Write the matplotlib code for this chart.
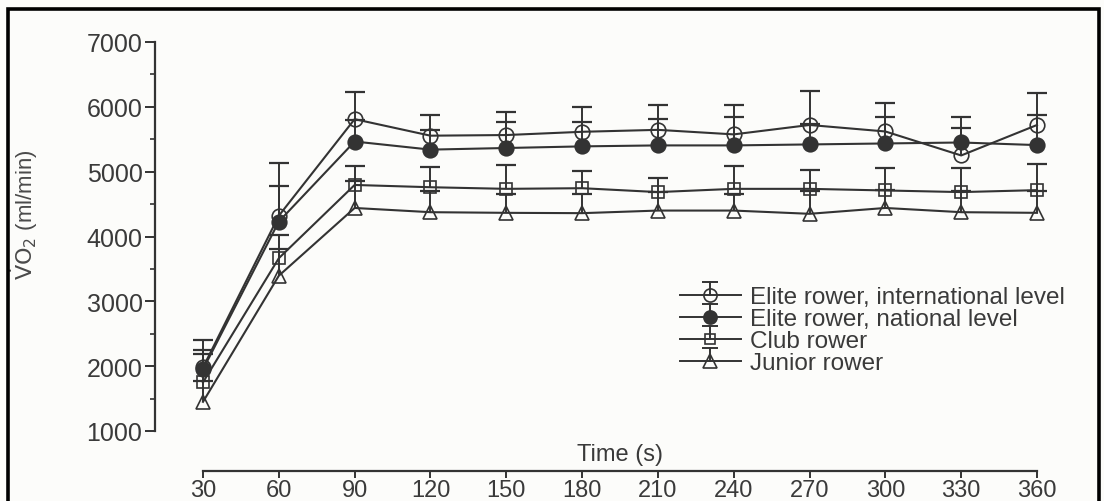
import numpy as np
import matplotlib
matplotlib.use("Agg")
import matplotlib.pyplot as plt
from matplotlib.lines import Line2D
from matplotlib.patches import Rectangle
from matplotlib.legend_handler import HandlerBase

plt.rcParams['font.family'] = ['Liberation Sans', 'DejaVu Sans']
plt.rcParams['mathtext.fontset'] = 'dejavusans'

# data (ml/min)
time_s = [30, 60, 90, 120, 150, 180, 210, 240, 270, 300, 330, 360]

intl_mean = [1980, 4320, 5810, 5555, 5565, 5615, 5645, 5575, 5720, 5620, 5250, 5720]
intl_top = [2400, 5130, 6225, 5875, 5915, 6000, 6030, 6035, 6240, 6055, 5850, 6215]

natl_mean = [1950, 4230, 5465, 5340, 5365, 5390, 5405, 5405, 5420, 5435, 5450, 5410]
natl_top = [2245, 4785, 5790, 5645, 5770, 5760, 5810, 5840, 5730, 5840, 5675, 5875]

club_mean = [1750, 3665, 4795, 4760, 4735, 4745, 4685, 4735, 4735, 4710, 4685, 4715]
club_top = [2180, 4030, 5085, 5065, 5105, 5005, 4905, 5085, 5025, 5055, 5050, 5120]

junior_mean = [1450, 3395, 4440, 4375, 4365, 4360, 4400, 4400, 4350, 4440, 4375, 4365]
junior_top = [1775, 3810, 4860, 4700, 4650, 4655, 4690, 4655, 4700, 4720, 4700, 4700]

labels = ["Elite rower, international level", "Elite rower, national level",
          "Club rower", "Junior rower"]

INK = '#333333'
TXT = '#3a3a3a'
BG = '#fcfcfa'


class HandlerUpperBar(HandlerBase):
    # legend handle: line, marker, and a one-sided error bar with a top cap
    def create_artists(self, legend, orig_handle, xdescent, ydescent,
                       width, height, fontsize, trans):
        yc = height / 2 - ydescent
        x0, x1 = -xdescent, width - xdescent
        xm = (x0 + x1) / 2
        ytop = yc + 9
        kw = dict(color=INK, lw=1.4)
        line = Line2D([x0, x1], [yc, yc], **kw)
        bar = Line2D([xm, xm], [yc, ytop], **kw)
        cap = Line2D([xm], [ytop], marker='_', ms=11, mew=1.4, color=INK)
        mark = Line2D([xm], [yc], marker=orig_handle.get_marker(),
                      ms=orig_handle.get_markersize() * 0.9,
                      mfc=orig_handle.get_markerfacecolor(),
                      mec=INK, mew=1.2, ls='none')
        arts = [line, bar, cap, mark]
        for a in arts:
            a.set_transform(trans)
        return arts


W, H = 1104, 502
fig = plt.figure(figsize=(W / 100, H / 100), dpi=100, facecolor=BG)

# axes box in pixels: y spine 1000..7000 -> 432..43 px, x 30 -> 203 px, 360 -> 1037 px
ax_l, ax_r = 155, 1050
ax_b, ax_t = 432, 43
ax = fig.add_axes([ax_l / W, 1 - ax_b / H, (ax_r - ax_l) / W, (ax_b - ax_t) / H])
ax.set_facecolor('none')

pxs = (1037 - 203) / 330.0
x0 = 30 - (203 - ax_l) / pxs
x1 = 360 + (ax_r - 1037) / pxs
ax.set_xlim(x0, x1)
ax.set_ylim(1000, 7000)

series = [
    (intl_mean, intl_top, 'o', 'none', 10.5),
    (natl_mean, natl_top, 'o', INK, 10.5),
    (club_mean, club_top, 's', 'none', 8.5),
    (junior_mean, junior_top, '^', 'none', 10.5),
]

t = np.array(time_s)
handles = []
for (mean, top, mk, fc, ms), lab in zip(series, labels):
    mean = np.array(mean)
    top = np.array(top)
    ax.vlines(t, mean, top, colors=INK, lw=1.4, zorder=2)
    ax.plot(t, top, ls='none', marker='_', ms=15, mew=1.6, color=INK, zorder=2)
    h, = ax.plot(t, mean, color=INK, lw=1.5, marker=mk, ms=ms,
                 mfc=fc, mec=INK, mew=1.2, zorder=3, label=lab)
    handles.append(h)

# spines
for s in ['top', 'right']:
    ax.spines[s].set_visible(False)
ax.spines['left'].set_color(INK)
ax.spines['left'].set_linewidth(1.6)
ax.spines['bottom'].set_color(INK)
ax.spines['bottom'].set_linewidth(1.6)
ax.spines['bottom'].set_position(('outward', (472 - ax_b) * 0.72))
ax.spines['bottom'].set_bounds(30, 360)

ax.set_yticks(np.arange(1000, 7001, 1000))
ax.set_yticks(np.arange(1500, 7000, 1000), minor=True)
ax.set_xticks(time_s)
ax.tick_params(axis='y', which='major', direction='out', length=7, width=1.4,
               color=INK, labelsize=18, labelcolor=TXT, pad=2)
ax.tick_params(axis='y', which='minor', direction='out', length=3.5, width=1.2, color=INK)
ax.tick_params(axis='x', direction='out', length=5, width=1.4, color=INK,
               labelsize=17, labelcolor=TXT, pad=1)

ax.set_xlabel("Time (s)", fontsize=17, color=TXT)
ax.xaxis.label.set_verticalalignment('center')
ax.xaxis.set_label_coords(((203 + 1037) / 2 - ax_l) / (ax_r - ax_l), -(455 - ax_b) / (ax_b - ax_t))

ax.set_ylabel(r"$\dot{\mathsf{V}}\mathsf{O}_2$ (ml/min)", fontsize=16, color='#4a4a4a')
ax.yaxis.label.set_verticalalignment('center')
ax.yaxis.set_label_coords((24 - ax_l) / (ax_r - ax_l), (ax_b - 215) / (ax_b - ax_t))

leg = ax.legend(handles=handles, labels=labels, loc='upper left',
                bbox_to_anchor=(680 / W, 1 - 287 / H), bbox_transform=fig.transFigure,
                frameon=False, fontsize=17.5, labelcolor=TXT, borderpad=0,
                borderaxespad=0, handlelength=2.5, handletextpad=0.4,
                labelspacing=0.0,
                handler_map={Line2D: HandlerUpperBar()})

# scanned-page frame
fig.patches.append(Rectangle((8 / W, -0.05), (1099 - 8) / W, 1 - 10 / H + 0.05,
                             transform=fig.transFigure, fill=False,
                             edgecolor='black', lw=2.6, zorder=10))

fig.savefig("out.png", dpi=100, facecolor=BG)
